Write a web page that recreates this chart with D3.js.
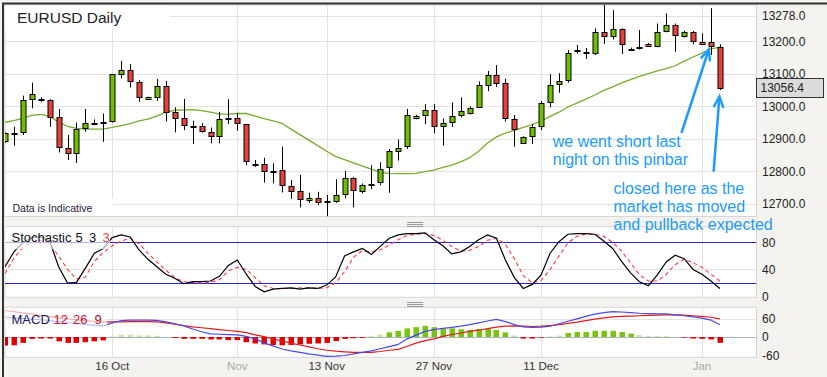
<!DOCTYPE html>
<html>
<head>
<meta charset="utf-8">
<script src="https://cdn.jsdelivr.net/npm/d3@7"></script>
<style>
  body { margin: 0; background: #f4f3ef; }
  svg { display: block; }
  text { font-family: Arial, "Liberation Sans", sans-serif; }
</style>
</head>
<body>
<div id="chart"></div>
<script>
// ---- data ----
const opens  = [12891,12919,12919,13022,13024,13019,12966,12871,12855,12932,12948,12951,12953,13099,13112,13075,13022,13030,13063,12982,
                12963,12939,12940,12920,12909,12963,12963,12945,12823,12822,12802,12803,12755,12738,12710,12717,12708,12708,12729,12778,
                12740,12762,12766,12812,12863,12876,12963,12975,12989,12939,12951,12972,12979,12997,13068,13098,13071,12960,12889,12906,
                12937,13012,13068,13081,13170,13165,13163,13228,13216,13237,13177,13183,13192,13186,13232,13250,13216,13228,13199,13197,13183];
const highs  = [12920,12937,13033,13073,13028,13022,12992,12912,12950,12992,12960,12978,13100,13140,13130,13081,13030,13084,13078,12997,
                13023,12956,12948,12935,12983,13022,12980,12946,12835,12842,12825,12876,12773,12789,12734,12737,12727,12776,12801,12783,
                12763,12819,12828,12869,12898,12992,12974,13007,13007,12963,13012,13028,13000,13077,13109,13127,13085,12973,12908,12946,
                13016,13099,13102,13173,13189,13180,13240,13312,13296,13240,13181,13235,13195,13255,13286,13255,13233,13232,13225,13302,13191];
const lows   = [12888,12879,12912,12994,13014,12937,12858,12835,12826,12922,12942,12891,12950,13086,13058,13014,13020,13017,12953,12920,
                12927,12884,12919,12886,12886,12946,12925,12819,12814,12765,12763,12735,12715,12689,12703,12696,12661,12703,12717,12689,
                12732,12745,12757,12734,12833,12869,12960,12945,12917,12879,12937,12966,12975,12995,13047,13060,12953,12876,12886,12884,
                12927,12997,13042,13073,13163,13146,13158,13192,13206,13161,13171,13175,13183,13182,13228,13168,13212,13191,13191,13158,13050];
const closes = [12917,12918,13019,13037,13022,12968,12874,12855,12929,12948,12947,12951,13099,13112,13078,13028,13028,13063,12983,12965,
                12940,12938,12924,12909,12960,12962,12948,12830,12822,12799,12801,12756,12740,12714,12717,12705,12707,12726,12778,12740,
                12757,12761,12807,12862,12871,12972,12969,12989,12939,12948,12969,12985,12995,13065,13098,13074,12963,12929,12906,12935,
                13009,13065,13078,13163,13172,13167,13228,13216,13237,13192,13176,13182,13186,13228,13250,13219,13228,13199,13193,13186,13056];
const movingAvg = [12951,12956,12964,12972,12975,12969,12952,12938,12932,12930,12930,12930,12935,12941,12947,12955,12961,12970,12982,12988,
                12989,12990,12987,12982,12976,12976,12978,12978,12970,12962,12955,12948,12930,12913,12896,12879,12862,12846,12836,12826,
                12816,12807,12797,12794,12793,12793,12794,12799,12804,12812,12819,12829,12842,12862,12887,12906,12918,12926,12935,12944,
                12955,12969,12982,12998,13010,13022,13035,13049,13060,13072,13082,13092,13101,13109,13116,13125,13139,13152,13164,13177,13182];
const stochK = [44,66,80,87,88,82,44,20,21,42,64,71,87,91,88,69,55,44,33,27,
                19,22,22,23,30,46,54,33,15,7,11,12,13,11,13,12,17,29,60,66,
                71,62,74,86,91,93,93,94,84,75,63,66,74,84,91,86,54,28,12,18,
                32,64,81,92,93,93,92,82,71,52,35,22,16,32,51,61,56,40,33,23,12];
const stochD = [34,57,72,80,83,78,60,40,26,29,52,65,75,82,86,78,64,51,39,28,
                22,21,20,21,25,38,43,40,28,16,12,12,12,13,13,12,13,20,37,58,
                68,66,69,76,84,90,92,93,90,83,74,67,68,74,83,86,77,56,31,20,
                24,40,60,79,89,92,92,89,80,67,50,32,23,23,33,47,55,50,43,33,23];
const macdLine = [64,62,60,58,56,53,50,47,44,41,38,36,46,53,55,55,55,54,49,43,
                36,26,17,10,9,8,7,2,-6,-19,-29,-39,-45,-50,-55,-59,-63,-62,-60,-55,
                -50,-45,-38,-31,-24,-6,6,18,24,28,31,35,40,46,52,57,50,40,33,31,
                32,35,43,51,59,67,74,79,82,81,79,77,76,75,75,72,69,65,61,55,40];
const signalLine = [86,82,78,74,70,66,62,59,56,53,51,49,49,49,50,50,50,49,46,42,
                37,33,30,27,24,21,18,14,7,1,-6,-13,-20,-26,-32,-38,-43,-46,-48,-50,
                -50,-50,-47,-43,-40,-30,-20,-12,-6,2,8,13,18,22,27,32,35,36,35,34,
                35,37,40,44,48,53,58,62,65,67,68,69,70,71,72,72,71,69,67,64,59];
const macdHist = [-28,-27,-19,-6,-5,-5,-14,-19,-19,-17,-14,-11,1,7,7,5,5,4,0,-3,
                -6,-6,-6,-8,-8,-10,-10,-17,-21,-24,-26,-27,-26,-24,-22,-21,-19,-13,-6,-4,
                -3,3,7,15,20,28,32,36,32,28,28,25,23,26,26,23,15,5,-5,-5,
                -2,2,5,13,16,16,20,20,20,16,11,6,3,3,3,0,-2,-5,-6,-8,-19];
const lastPrice = 13056.4;

const firstDay = new Date(2012, 9, 2), lastDay = new Date(2013, 0, 4);
const dates = d3.timeDay.range(firstDay, lastDay).filter(d => d.getDay() !== 6); // sunday..friday bars
const dateTicks = [
  { date: '2012-10-16', label: '16 Oct', month: false },
  { date: '2012-11-01', label: 'Nov', month: true },
  { date: '2012-11-13', label: '13 Nov', month: false },
  { date: '2012-11-27', label: '27 Nov', month: false },
  { date: '2012-12-11', label: '11 Dec', month: false },
  { date: '2013-01-01', label: 'Jan', month: true }
];
const priceTicks = [13278, 13200, 13100, 13000, 12900, 12800, 12700];
const stochTicks = [80, 40, 0];
const macdTicks = [60, 0, -60];

// ---- layout ----
const W = 827, H = 377;
const plotLeft = 5, plotRight = 756.5;
const panels = {
  main:  { top: 5,     bottom: 216.5 },
  stoch: { top: 226.7, bottom: 297.3 },
  macd:  { top: 307.3, bottom: 357.3 }
};
const green = '#6fbf00', red = '#e8403c';

const svg = d3.select('#chart').append('svg').attr('width', W).attr('height', H);
svg.append('rect').attr('width', W).attr('height', H).attr('fill', '#f4f3ef');

const fmtDay = d3.timeFormat('%Y-%m-%d');
const dayIndex = new Map(dates.map((d, i) => [fmtDay(d), i]));

const x = d3.scaleLinear().domain([0, 84.1]).range([plotLeft, plotRight]);
const yPrice = d3.scaleLinear().domain([12661, 13312]).range([panels.main.bottom, panels.main.top]);
const yStoch = d3.scaleLinear().domain([0, 100]).range([296.6, 228.8]);
const yMacd = d3.scaleLinear().domain([-60, 60]).range([355.5, 318.5]);

const crisp = v => Math.round(v) + 0.5;

// panels + clip paths
const defs = svg.append('defs');
Object.entries(panels).forEach(([key, p]) => {
  svg.append('rect')
    .attr('x', plotLeft).attr('y', p.top)
    .attr('width', plotRight - plotLeft).attr('height', p.bottom - p.top)
    .attr('fill', '#fff').attr('stroke', '#d6d6d6');
  defs.append('clipPath').attr('id', 'clip-' + key)
    .append('rect')
    .attr('x', plotLeft).attr('y', p.top)
    .attr('width', plotRight - plotLeft).attr('height', p.bottom - p.top);
});

// outer frame
svg.append('line').attr('x1', 2).attr('x2', W).attr('y1', 3.5).attr('y2', 3.5).attr('stroke', '#333').attr('stroke-width', 2);
svg.append('line').attr('x1', 3).attr('x2', 3).attr('y1', 3).attr('y2', H).attr('stroke', '#333').attr('stroke-width', 2);

// grips between panels
[panels.stoch.top, panels.macd.top].forEach(t => {
  [-5, -3, -1].forEach(o => {
    svg.append('line').attr('x1', 407).attr('x2', 423)
      .attr('y1', Math.round(t + o) + 0.5).attr('y2', Math.round(t + o) + 0.5)
      .attr('stroke', '#9a9a9a');
  });
});

// vertical grid in every panel
const tickIdx = dateTicks.map(t => ({ ...t, i: dayIndex.get(t.date) }));
Object.values(panels).forEach(p => {
  svg.append('g').selectAll('line').data(tickIdx).enter().append('line')
    .attr('x1', d => crisp(x(d.i))).attr('x2', d => crisp(x(d.i)))
    .attr('y1', p.top).attr('y2', p.bottom)
    .attr('stroke', '#e2e2e2');
});

// ---- main panel ----
const main = svg.append('g').attr('clip-path', 'url(#clip-main)');
main.selectAll('line.hgrid').data(priceTicks).enter().append('line')
  .attr('class', 'hgrid')
  .attr('x1', plotLeft).attr('x2', plotRight)
  .attr('y1', d => crisp(yPrice(d))).attr('y2', d => crisp(yPrice(d)))
  .attr('stroke', '#e2e2e2');

// title box + indicative note hide the grid under them
svg.append('rect').attr('x', plotLeft).attr('y', panels.main.top + 0.5).attr('width', 165).attr('height', 24).attr('fill', '#fff');
svg.append('text').attr('x', 17).attr('y', 23).attr('font-size', 15.5).attr('fill', '#222').text('EURUSD Daily');
svg.append('rect').attr('x', plotLeft).attr('y', 198).attr('width', 108).attr('height', 18).attr('fill', '#fff');
svg.append('text').attr('x', 12.5).attr('y', 212).attr('font-size', 10.5)
  .attr('font-family', '"DejaVu Sans", Verdana, sans-serif').attr('fill', '#1c1c3a').text('Data is Indicative');

// moving average
main.append('path').datum(movingAvg)
  .attr('fill', 'none').attr('stroke', '#79ab2f').attr('stroke-width', 1.3)
  .attr('d', d3.line().x((d, i) => x(i)).y(d => yPrice(d)));

// candles
const candles = main.selectAll('g.candle').data(opens.map((o, i) => ({ i, o, h: highs[i], l: lows[i], c: closes[i] })))
  .enter().append('g').attr('class', 'candle');
candles.append('line')
  .attr('x1', d => crisp(x(d.i))).attr('x2', d => crisp(x(d.i)))
  .attr('y1', d => yPrice(d.h)).attr('y2', d => yPrice(d.l))
  .attr('stroke', '#000');
candles.append('rect')
  .attr('x', d => Math.round(x(d.i)) - 2)
  .attr('y', d => Math.round(yPrice(Math.max(d.o, d.c))) + 0.5)
  .attr('width', 5)
  .attr('height', d => Math.max(1, Math.round(Math.abs(yPrice(d.o) - yPrice(d.c)))))
  .attr('fill', d => d.c >= d.o ? green : red)
  .attr('stroke', '#000');

// price axis
svg.append('g').selectAll('text').data(priceTicks).enter().append('text')
  .attr('x', 762).attr('y', d => yPrice(d)).attr('dy', '0.35em')
  .attr('font-size', 12).attr('fill', '#222')
  .text(d => d3.format('.1f')(d));
svg.append('rect').attr('x', 756.5).attr('y', Math.round(yPrice(lastPrice)) - 9.5)
  .attr('width', 67).attr('height', 19).attr('fill', '#dcdcdc').attr('stroke', '#333');
svg.append('text').attr('x', 760.5).attr('y', yPrice(lastPrice)).attr('dy', '0.35em')
  .attr('font-size', 12).attr('fill', '#222').text(d3.format('.1f')(lastPrice));

// annotations
const blue = '#1e9bff';
const note1 = svg.append('text').attr('x', x(61.3)).attr('y', 146.5).attr('font-size', 16).attr('fill', blue);
note1.append('tspan').text('we went short last');
note1.append('tspan').attr('x', x(61.3)).attr('dy', 18).text('night on this pinbar');
const note2 = svg.append('text').attr('x', x(68.1)).attr('y', 194).attr('font-size', 16).attr('fill', blue);
['closed here as the', 'market has moved', 'and pullback expected'].forEach((t, k) => {
  note2.append('tspan').attr('x', x(68.1)).attr('dy', k ? 18 : 0).text(t);
});
const arrows = [
  { from: [75.7, 12918], to: [78.76, 13175] },
  { from: [79.3, 12799], to: [79.95, 13030] }
];
arrows.forEach(a => {
  const x1 = x(a.from[0]), y1 = yPrice(a.from[1]), x2 = x(a.to[0]), y2 = yPrice(a.to[1]);
  const ang = Math.atan2(y2 - y1, x2 - x1), len = 12, spread = 0.42;
  svg.append('line').attr('x1', x1).attr('y1', y1).attr('x2', x2).attr('y2', y2)
    .attr('stroke', blue).attr('stroke-width', 2.5);
  const p1 = [x2 - len * Math.cos(ang - spread), y2 - len * Math.sin(ang - spread)];
  const p2 = [x2 - len * Math.cos(ang + spread), y2 - len * Math.sin(ang + spread)];
  svg.append('path').attr('d', `M${p1}L${x2},${y2}L${p2}`)
    .attr('fill', 'none').attr('stroke', blue).attr('stroke-width', 2.5);
});

// indicator label with spaced tokens
const panelLabel = (y, parts) => {
  const t = svg.append('text').attr('y', y).attr('font-size', 13);
  parts.forEach(p => t.append('tspan').attr('x', p.x).attr('fill', p.color).text(p.text));
};

// ---- stochastic panel ----
const stoch = svg.append('g').attr('clip-path', 'url(#clip-stoch)');
stoch.append('line').attr('x1', plotLeft).attr('x2', plotRight)
  .attr('y1', crisp(yStoch(40))).attr('y2', crisp(yStoch(40))).attr('stroke', '#e2e2e2');
stoch.selectAll('line.band').data([80, 20]).enter().append('line')
  .attr('class', 'band')
  .attr('x1', plotLeft).attr('x2', plotRight)
  .attr('y1', d => crisp(yStoch(d))).attr('y2', d => crisp(yStoch(d)))
  .attr('stroke', '#2424c8');
const stochLine = d3.line().x((d, i) => x(i)).y(d => yStoch(d));
stoch.append('path').datum(stochD).attr('fill', 'none').attr('stroke', '#ff3b3b')
  .attr('stroke-width', 1.1).attr('stroke-dasharray', '4,3').attr('d', stochLine);
stoch.append('path').datum(stochK).attr('fill', 'none').attr('stroke', '#000')
  .attr('stroke-width', 1.2).attr('d', stochLine);
svg.append('rect').attr('x', plotLeft).attr('y', panels.stoch.top + 0.5).attr('width', 105).attr('height', 22)
  .attr('fill', '#fff').attr('fill-opacity', 0.65);
panelLabel(242, [
  { x: 11.5, text: 'Stochastic', color: '#111' },
  { x: 75.5, text: '5', color: '#111' },
  { x: 89, text: '3', color: '#111' },
  { x: 102.5, text: '3', color: '#e04848' }
]);
svg.append('g').selectAll('text').data(stochTicks).enter().append('text')
  .attr('x', 762).attr('y', d => yStoch(d)).attr('dy', '0.35em')
  .attr('font-size', 12).attr('fill', '#222').text(d => d);

// ---- MACD panel ----
const macd = svg.append('g').attr('clip-path', 'url(#clip-macd)');
macd.append('line').attr('x1', plotLeft).attr('x2', plotRight)
  .attr('y1', crisp(yMacd(60))).attr('y2', crisp(yMacd(60))).attr('stroke', '#e2e2e2');
macd.append('line').attr('x1', plotLeft).attr('x2', plotRight)
  .attr('y1', crisp(yMacd(0))).attr('y2', crisp(yMacd(0))).attr('stroke', '#aab3c6');
macd.selectAll('rect.hist').data(macdHist).enter().append('rect')
  .attr('class', 'hist')
  .attr('x', (d, i) => Math.round(x(i)) - 2.5)
  .attr('width', 5.5)
  .attr('y', d => Math.min(yMacd(d), yMacd(0)))
  .attr('height', d => Math.abs(yMacd(d) - yMacd(0)))
  .attr('fill', d => d >= 0 ? (d < 8 ? '#c6e79c' : '#79c40e') : '#e00000');
const macdPath = d3.line().x((d, i) => x(i)).y(d => yMacd(d));
macd.append('path').datum(signalLine).attr('fill', 'none').attr('stroke', '#e01c1c').attr('stroke-width', 1.2).attr('d', macdPath);
macd.append('path').datum(macdLine).attr('fill', 'none').attr('stroke', '#4a4ae6').attr('stroke-width', 1.2).attr('d', macdPath);
svg.append('rect').attr('x', plotLeft).attr('y', panels.macd.top + 0.5).attr('width', 102).attr('height', 24)
  .attr('fill', '#fff').attr('fill-opacity', 0.65);
panelLabel(324, [
  { x: 11.5, text: 'MACD', color: '#1a1a5a' },
  { x: 53.5, text: '12', color: '#d0103a' },
  { x: 73, text: '26', color: '#d0103a' },
  { x: 94.5, text: '9', color: '#b0102a' }
]);
svg.append('g').selectAll('text').data(macdTicks).enter().append('text')
  .attr('x', 762).attr('y', d => yMacd(d)).attr('dy', '0.35em')
  .attr('font-size', 12).attr('fill', '#222').text(d => d);

// ---- date axis ----
svg.append('g').selectAll('text').data(tickIdx).enter().append('text')
  .attr('x', d => x(d.i)).attr('y', 370)
  .attr('text-anchor', 'middle').attr('font-size', 11.5)
  .attr('fill', d => d.month ? '#a8a8a8' : '#333')
  .text(d => d.label);
</script>
</body>
</html>
